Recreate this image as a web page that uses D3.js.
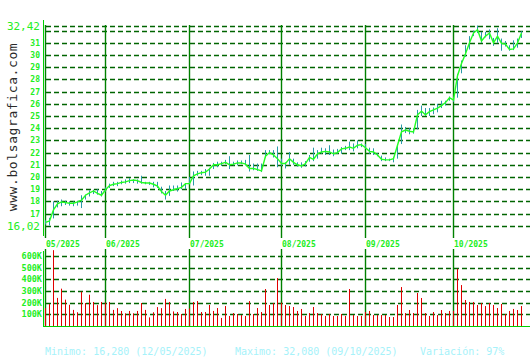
<!DOCTYPE html>
<html>
<head>
<meta charset="utf-8">
<script src="https://cdn.jsdelivr.net/npm/d3@7"></script>
<style>
  body { margin: 0; background: #fff; }
  svg { display: block; }
  text { font-family: "DejaVu Sans Mono", monospace; }
</style>
</head>
<body>
<script>
// daily closes, 12/05/2025 -> 24/10/2025
const closes = [
  16.28, 16.4, 17.3, 17.8, 17.95, 17.9, 17.85, 17.85, 17.95, 18.1,
  18.5, 18.7, 18.85, 18.65, 18.5, 18.95, 19.3, 19.4, 19.45, 19.55,
  19.6, 19.7, 19.75, 19.7, 19.55, 19.5, 19.5, 19.4, 19.25, 18.8,
  18.5, 18.85, 18.95, 19.05, 19.15, 19.45, 19.45, 20.1, 20.25, 20.35,
  20.4, 20.65, 21.0, 21.0, 21.1, 21.2, 21.0, 21.05, 21.15, 21.15,
  21.05, 20.7, 20.7, 20.6, 20.5, 21.7, 22.0, 21.8, 21.5, 21.1,
  21.1, 21.5, 21.2, 21.0, 20.9, 21.1, 21.6, 21.45, 21.9, 22.05,
  22.1, 22.05, 21.9, 22.0, 22.3, 22.35, 22.45, 22.35, 22.6, 22.65,
  22.4, 22.1, 22.05, 21.8, 21.45, 21.4, 21.4, 21.5, 22.6, 23.7,
  23.85, 23.75, 23.7, 25.1, 25.4, 25.1, 25.35, 25.5, 25.65, 25.85,
  26.1, 26.5, 26.3, 28.3, 29.3, 30.1, 31.0, 31.8, 32.08, 31.15,
  31.55, 31.8, 31.0, 31.55, 30.95, 30.9, 30.45, 30.5, 31.0, 31.8
]
const highs = [
  16.45, 16.65, 18.0, 18.05, 18.15, 18.05, 18.0, 18.0, 18.05, 18.5,
  18.55, 18.9, 18.95, 19.0, 18.85, 19.15, 19.45, 19.6, 19.6, 19.7,
  19.8, 19.9, 19.8, 19.8, 20.1, 19.6, 19.6, 19.6, 19.6, 19.2,
  18.85, 19.3, 19.3, 19.3, 19.55, 19.5, 20.0, 20.45, 20.5, 20.5,
  20.65, 20.75, 21.15, 21.25, 21.25, 21.4, 21.7, 21.25, 21.35, 21.35,
  21.4, 21.8, 21.1, 21.1, 21.1, 22.2, 22.2, 22.2, 22.5, 21.5,
  21.2, 22.05, 21.5, 21.2, 21.2, 21.3, 21.8, 22.4, 22.2, 22.4,
  22.35, 22.6, 22.25, 22.3, 22.45, 22.55, 22.9, 22.75, 23.0, 22.75,
  22.7, 22.4, 22.35, 21.95, 21.75, 21.6, 21.5, 21.65, 22.6, 24.3,
  24.1, 24.0, 24.0, 25.5, 25.85, 25.65, 25.65, 25.7, 26.0, 26.25,
  26.25, 26.6, 26.55, 28.45, 29.55, 30.8, 31.55, 32.0, 32.42, 31.9,
  31.9, 32.1, 31.4, 32.2, 31.35, 31.15, 30.8, 31.2, 31.35, 31.95
]
const lows = [
  16.1, 16.02, 16.6, 17.5, 17.6, 17.7, 17.65, 17.6, 17.65, 17.45,
  18.15, 18.4, 18.6, 18.55, 18.4, 18.8, 19.1, 19.25, 19.25, 19.4,
  19.45, 19.5, 19.5, 19.45, 19.45, 19.4, 19.35, 19.15, 19.1, 18.65,
  18.15, 18.45, 18.85, 18.8, 19.0, 19.0, 19.4, 19.3, 20.1, 20.15,
  20.1, 20.1, 20.65, 20.8, 20.9, 21.05, 20.65, 20.95, 20.95, 21.05,
  20.95, 20.45, 20.55, 20.5, 20.4, 21.6, 21.85, 21.6, 20.8, 20.9,
  20.7, 21.0, 21.0, 20.85, 20.75, 20.85, 21.25, 21.3, 21.5, 21.9,
  21.8, 21.8, 21.7, 21.9, 21.9, 22.2, 22.2, 22.1, 22.35, 22.45,
  22.3, 21.9, 21.8, 21.7, 21.3, 21.3, 21.3, 21.2, 21.5, 22.7,
  23.6, 23.5, 23.55, 23.9, 25.0, 25.0, 25.0, 25.15, 25.3, 25.65,
  25.85, 26.25, 26.15, 26.5, 28.5, 29.85, 30.45, 31.55, 31.8, 31.0,
  31.45, 31.3, 30.75, 31.0, 30.35, 30.7, 30.35, 30.4, 30.6, 31.4
]
// volume in thousands
const volumes = [
  153, 188, 650, 241, 320, 226, 182, 138, 118, 294,
  197, 268, 206, 179, 206, 200, 206, 138, 153, 129,
  109, 129, 109, 129, 197, 138, 74, 118, 162, 153,
  232, 206, 125, 120, 103, 146, 150, 206, 214, 120,
  120, 180, 129, 154, 69, 171, 86, 111, 103, 94,
  86, 214, 103, 154, 120, 317, 180, 197, 411, 200,
  180, 171, 163, 129, 146, 86, 111, 163, 111, 103,
  86, 103, 86, 86, 103, 86, 317, 94, 86, 86,
  120, 129, 94, 94, 94, 94, 77, 77, 180, 334,
  111, 137, 111, 283, 240, 111, 86, 120, 94, 137,
  111, 129, 130, 489, 351, 223, 206, 206, 180, 197,
  171, 197, 180, 154, 189, 103, 129, 146, 137, 171
]
const startDate = '2025-05-12'
const priceTicks = [17, 18, 19, 20, 21, 22, 23, 24, 25, 26, 27, 28, 29, 30, 31]
const priceGrid = [17, 18, 19, 20, 21, 22, 23, 24, 25, 26, 27, 28, 29, 30, 31, 32]
const priceRange = [16.02, 32.42]
const volTicks = [100, 200, 300, 400, 500, 600]
const siteLabel = 'www.bolsagrafica.com'

const w = 530
const h = 360

// trading days (weekdays) from the first date
const dates = []
let day = d3.timeParse('%Y-%m-%d')(startDate)
while (dates.length < closes.length) {
  if (day.getDay() % 6 !== 0) dates.push(day)
  day = d3.timeDay.offset(day, 1)
}
const monthStarts = d3.range(dates.length).filter(i => i === 0 || dates[i].getMonth() !== dates[i - 1].getMonth())

const svg = d3.select('body').append('svg')
  .attr('width', w)
  .attr('height', h)

const x = d3.scalePoint()
  .domain(d3.range(closes.length))
  .range([45.5, 45.5 + 4 * (closes.length - 1)])

const y = d3.scaleLinear()
  .domain(priceRange)
  .range([225.5, 25.5])

const yVol = d3.scaleLinear()
  .domain([0, 600])
  .range([326, 256])

const dash = '5,3'
const gridColor = '#006400'
const monthColor = '#008000'
const labelColor = '#22ee22'

// price grid
svg.append('g').selectAll('line')
  .data(priceGrid.concat(priceRange))
  .enter().append('line')
  .attr('x1', 46).attr('x2', w)
  .attr('y1', d => Math.round(y(d)) + 0.5)
  .attr('y2', d => Math.round(y(d)) + 0.5)
  .attr('stroke', gridColor)
  .attr('stroke-width', 1.4)
  .attr('stroke-dasharray', dash)

// volume grid
svg.append('g').selectAll('line')
  .data(volTicks)
  .enter().append('line')
  .attr('x1', 46).attr('x2', w)
  .attr('y1', d => Math.round(yVol(d)) + 0.5)
  .attr('y2', d => Math.round(yVol(d)) + 0.5)
  .attr('stroke', gridColor)
  .attr('stroke-width', 1.4)
  .attr('stroke-dasharray', dash)

// month lines
svg.append('g').selectAll('line')
  .data(monthStarts)
  .enter().append('line')
  .attr('x1', i => x(i)).attr('x2', i => x(i))
  .attr('y1', 25).attr('y2', 238)
  .attr('stroke', monthColor)
  .attr('stroke-width', 1.4)
svg.append('g').selectAll('line')
  .data(monthStarts)
  .enter().append('line')
  .attr('x1', i => x(i)).attr('x2', i => x(i))
  .attr('y1', 249).attr('y2', 326)
  .attr('stroke', monthColor)
  .attr('stroke-width', 1.4)

svg.append('g').selectAll('text')
  .data(monthStarts)
  .enter().append('text')
  .attr('x', i => x(i) + 0.5)
  .attr('y', 247)
  .attr('font-size', 8)
  .attr('font-weight', 'bold')
  .attr('fill', labelColor)
  .text(i => d3.timeFormat('%m/%Y')(dates[i]))

// volume bars
svg.append('g').selectAll('rect')
  .data(volumes)
  .enter().append('rect')
  .attr('x', (d, i) => x(i) - 0.5)
  .attr('width', 1)
  .attr('y', d => yVol(d))
  .attr('height', d => yVol(0) - yVol(d))
  .attr('fill', '#e00000')

// high-low bars
svg.append('g').selectAll('line')
  .data(closes)
  .enter().append('line')
  .attr('x1', (d, i) => x(i)).attr('x2', (d, i) => x(i))
  .attr('y1', (d, i) => y(highs[i]))
  .attr('y2', (d, i) => y(lows[i]))
  .attr('stroke', '#2a9aa8')
  .attr('stroke-width', 1)

// close line
svg.append('path')
  .datum(closes)
  .attr('d', d3.line().x((d, i) => x(i)).y(d => y(d)))
  .attr('fill', 'none')
  .attr('stroke', '#22ff22')
  .attr('stroke-width', 1.4)

// axes lines
svg.append('line')
  .attr('x1', 43.5).attr('x2', 43.5).attr('y1', 20).attr('y2', 236)
  .attr('stroke', '#00d000')
svg.append('line')
  .attr('x1', 43.5).attr('x2', 43.5).attr('y1', 251).attr('y2', 326)
  .attr('stroke', '#00d000')
svg.append('line')
  .attr('x1', 43).attr('x2', w).attr('y1', 326.5).attr('y2', 326.5)
  .attr('stroke', '#00d000')

// price labels
svg.append('g').selectAll('text')
  .data(priceTicks)
  .enter().append('text')
  .attr('x', 40)
  .attr('y', d => y(d) + 3)
  .attr('text-anchor', 'end')
  .attr('font-size', 8)
  .attr('font-weight', 'bold')
  .attr('fill', labelColor)
  .text(d => d)

const comma = v => d3.format('.2f')(v).replace('.', ',')
svg.append('g').selectAll('text')
  .data(priceRange)
  .enter().append('text')
  .attr('x', 40)
  .attr('y', d => y(d) + 4.5)
  .attr('text-anchor', 'end')
  .attr('font-size', 11)
  .attr('fill', labelColor)
  .text(d => comma(d))

// volume labels
svg.append('g').selectAll('text')
  .data(volTicks)
  .enter().append('text')
  .attr('x', 42)
  .attr('y', d => yVol(d) + 3)
  .attr('text-anchor', 'end')
  .attr('font-size', 8.5)
  .attr('font-weight', 'bold')
  .attr('fill', labelColor)
  .text(d => d + 'K')

// site name
svg.append('text')
  .attr('transform', 'translate(17,127) rotate(-90)')
  .attr('text-anchor', 'middle')
  .attr('font-size', 13)
  .attr('letter-spacing', 0.6)
  .attr('fill', '#2a2a2a')
  .text(siteLabel)

// stats
const minI = d3.minIndex(closes)
const maxI = d3.maxIndex(closes)
const dayFmt = d3.timeFormat('%d/%m/%Y')
const fmt3 = v => d3.format('.3f')(v).replace('.', ',')
const stats = [
  ['Minimo: ' + fmt3(closes[minI]) + ' (' + dayFmt(dates[minI]) + ')', 45],
  ['Maximo: ' + fmt3(closes[maxI]) + ' (' + dayFmt(dates[maxI]) + ')', 235],
  ['Variación: ' + Math.round((closes[maxI] / closes[minI] - 1) * 100) + '%', 420]
]
svg.append('g').selectAll('text')
  .data(stats)
  .enter().append('text')
  .attr('x', d => d[1])
  .attr('y', 355)
  .attr('font-size', 10)
  .attr('fill', '#a6f2fa')
  .text(d => d[0])
</script>
</body>
</html>
